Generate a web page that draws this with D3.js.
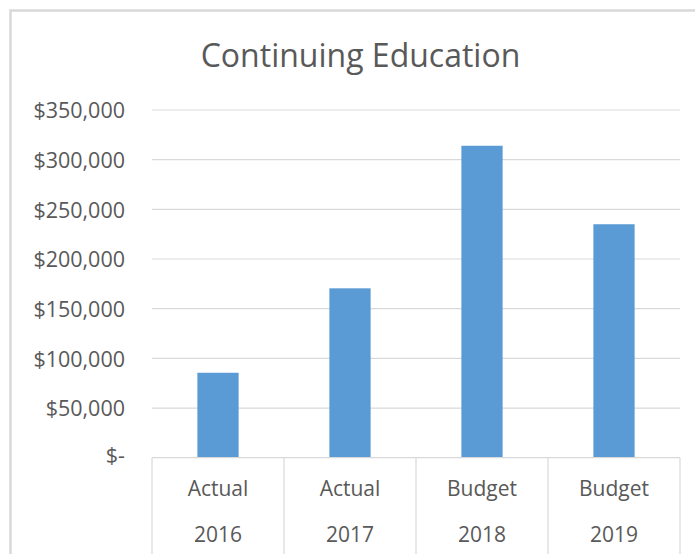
<!DOCTYPE html>
<html>
<head>
<meta charset="utf-8">
<script src="https://cdn.jsdelivr.net/npm/d3@7"></script>
<style>
  html, body { margin: 0; padding: 0; background: #fff; }
  svg { display: block; }
  text { font-family: "Open Sans", "Noto Sans", sans-serif; fill: #595959; }
</style>
</head>
<body>
<svg id="chart" width="695" height="554"></svg>
<script>
// Continuing Education: actuals and budgets by year
const chartTitle = "Continuing Education";
const periods = ["Actual", "Actual", "Budget", "Budget"];
const years = ["2016", "2017", "2018", "2019"];
const amounts = [85500, 170500, 314000, 235000];
const yTicks = [0, 50000, 100000, 150000, 200000, 250000, 300000, 350000];

const rows = years.map((y, i) => ({ year: y, period: periods[i], value: amounts[i] }));

const svg = d3.select("#chart");
const W = 695, H = 554;
const plot = { left: 152, right: 680, top: 110, bottom: 457.7 };
const gridColor = "#d9d9d9";

// outer chart frame (left and top edges are visible)
svg.append("path")
  .attr("d", `M10.5,${H} L10.5,10.5 L${W},10.5`)
  .attr("fill", "none")
  .attr("stroke", "#d9d9d9")
  .attr("stroke-width", 2.5);

const x = d3.scaleBand().domain(years).range([plot.left, plot.right]).paddingInner(0).paddingOuter(0);
const y = d3.scaleLinear().domain([0, 350000]).range([plot.bottom, plot.top]);

// title
svg.append("text")
  .attr("x", 360.5)
  .attr("y", 67)
  .attr("text-anchor", "middle")
  .style("font-size", "32px")
  .text(chartTitle);

// horizontal gridlines
svg.append("g")
  .selectAll("line")
  .data(yTicks.filter(t => t > 0))
  .join("line")
  .attr("x1", plot.left).attr("x2", plot.right)
  .attr("y1", d => y(d)).attr("y2", d => y(d))
  .attr("stroke", gridColor)
  .attr("stroke-width", 1.2);

// y axis labels
const fmt = d3.format(",");
const yAxis = d3.axisLeft(y)
  .tickValues(yTicks)
  .tickSize(0)
  .tickPadding(0)
  .tickFormat(d => d === 0 ? "$-" : "$" + fmt(d));
const gy = svg.append("g")
  .attr("transform", `translate(125,0)`)
  .call(yAxis);
gy.select(".domain").remove();
gy.selectAll("text")
  .style("font-size", "21.5px")
  .attr("fill", "#595959")
  .attr("dy", "0.36em");
gy.selectAll(".tick").filter(d => d === 0).select("text").attr("dy", "0.2em");

// bars
const barW = x.bandwidth() / 3.2;
svg.append("g")
  .selectAll("rect")
  .data(rows)
  .join("rect")
  .attr("x", d => x(d.year) + (x.bandwidth() - barW) / 2)
  .attr("width", barW)
  .attr("y", d => y(d.value))
  .attr("height", d => y(0) - y(d.value))
  .attr("fill", "#5b9bd5");

// category axis baseline
svg.append("line")
  .attr("x1", plot.left).attr("x2", plot.right)
  .attr("y1", y(0)).attr("y2", y(0))
  .attr("stroke", gridColor)
  .attr("stroke-width", 1.2);

// category separators
const seps = years.map(d => x(d)).concat([x(years[years.length - 1]) + x.bandwidth()]);
svg.append("g")
  .selectAll("line")
  .data(seps)
  .join("line")
  .attr("x1", d => d).attr("x2", d => d)
  .attr("y1", y(0)).attr("y2", H)
  .attr("stroke", gridColor)
  .attr("stroke-width", 1.2);

// two-level category labels
const lab = svg.append("g").style("font-size", "21px").attr("text-anchor", "middle");
lab.selectAll("text.period")
  .data(rows)
  .join("text")
  .attr("class", "period")
  .attr("x", d => x(d.year) + x.bandwidth() / 2)
  .attr("y", 495.7)
  .text(d => d.period);
lab.selectAll("text.year")
  .data(rows)
  .join("text")
  .attr("class", "year")
  .attr("x", d => x(d.year) + x.bandwidth() / 2)
  .attr("y", 541.7)
  .text(d => d.year);
</script>
</body>
</html>
